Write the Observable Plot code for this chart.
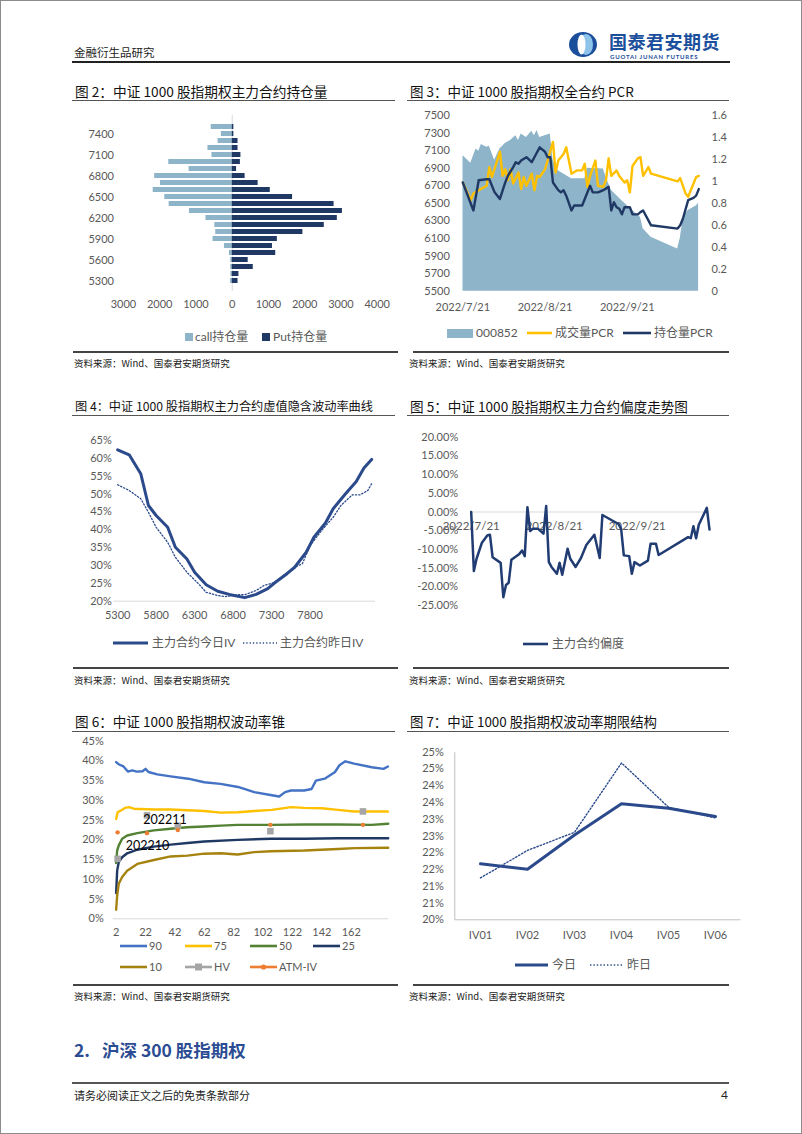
<!DOCTYPE html>
<html><head><meta charset="utf-8">
<script src="https://cdn.jsdelivr.net/npm/d3@7"></script>
<script src="https://cdn.jsdelivr.net/npm/@observablehq/plot@0.6"></script>
<style>
html,body{margin:0;padding:0;background:#fff;}
#page{position:absolute;left:0;top:0;width:802px;height:1134px;overflow:hidden;background:#fff;font-family:"Noto Sans CJK SC",sans-serif;}
.abs{position:absolute;white-space:pre;}
.abs svg{display:block;}
</style></head><body><div id="page"></div>
<script>
// ---------------- DATA ----------------
// Fig 2: open interest by strike
const oiStrikes = [7500,7400,7300,7200,7100,7000,6900,6800,6700,6600,6500,6400,6300,6200,6100,6000,5900,5800,5700,5600,5500,5400,5300];
const oiStrikeLabels = [7400,7100,6800,6500,6200,5900,5600,5300];
const callOI = [580,300,390,670,560,1750,1190,2140,1980,2180,1860,1740,1180,725,480,455,530,215,75,40,40,35,45];
const putOI = [45,45,160,160,240,225,120,355,715,1050,1665,2810,3040,2900,2540,1950,1245,1110,1200,440,580,185,160];
const oiTicks = [-3000,-2000,-1000,0,1000,2000,3000,4000];

// Fig 3: index 000852 and PCR
const idx000852 = [["7/21",7045],["7/24",6957],["7/26",7120],["7/27",7094],["7/28",7170],["7/30",7140],["7/31",7150],["8/2",6990],["8/4",7120],["8/6",7180],["8/8",7215],["8/10",7270],["8/11",7215],["8/12",7290],["8/14",7250],["8/16",7320],["8/17",7270],["8/18",7330],["8/19",7250],["8/21",7270],["8/23",7290],["8/24",7000],["8/26",6870],["8/31",6780],["9/5",6780],["9/6",6900],["9/12",6890],["9/13",6800],["9/15",6650],["9/19",6530],["9/23",6420],["9/26",6340],["9/27",6210],["9/30",6115],["10/10",5980],["10/11",6100],["10/12",6300],["10/13",6380],["10/14",6420],["10/17",6470],["10/18",6500]];
const volPCR = [["7/21",0.99],["7/24",0.83],["7/25",0.89],["7/27",0.92],["7/30",0.96],["7/31",1.13],["8/1",1.04],["8/4",1.27],["8/5",1.05],["8/6",1.11],["8/7",1.01],["8/8",1.11],["8/9",0.98],["8/11",1.08],["8/12",0.93],["8/13",1.04],["8/14",0.96],["8/16",1.07],["8/17",0.92],["8/18",1.05],["8/19",1.04],["8/21",1.11],["8/22",1.19],["8/24",1.36],["8/25",1.08],["8/26",1.19],["8/28",1.25],["8/29",1.31],["8/31",1.07],["9/2",1.10],["9/4",1.10],["9/5",1.16],["9/6",0.95],["9/7",1.05],["9/9",1.19],["9/10",0.96],["9/12",0.95],["9/13",1.01],["9/14",1.21],["9/15",1.05],["9/17",1.10],["9/18",1.05],["9/20",0.99],["9/21",1.01],["9/22",0.90],["9/23",1.14],["9/25",1.21],["9/26",1.22],["9/27",1.05],["9/29",1.13],["9/30",1.07],["10/10",1.00],["10/11",1.03],["10/13",0.89],["10/14",0.86],["10/15",0.92],["10/17",1.04],["10/18",1.05]];
const oiPCR = [["7/21",0.99],["7/25",0.735],["7/27",1.01],["7/30",1.02],["7/31",1.02],["8/2",0.90],["8/4",0.84],["8/6",0.99],["8/7",1.05],["8/9",1.13],["8/10",1.175],["8/11",1.16],["8/12",1.19],["8/14",1.22],["8/16",1.175],["8/17",1.22],["8/19",1.31],["8/21",1.27],["8/22",1.22],["8/23",1.22],["8/24",0.99],["8/26",0.92],["8/27",0.90],["8/28",0.92],["8/29",0.87],["8/31",0.735],["9/1",0.78],["9/4",0.78],["9/5",0.84],["9/7",0.96],["9/8",0.90],["9/10",0.90],["9/12",0.92],["9/14",0.95],["9/15",0.735],["9/16",0.81],["9/17",0.765],["9/18",0.75],["9/19",0.70],["9/20",0.765],["9/22",0.765],["9/23",0.70],["9/25",0.70],["9/26",0.72],["9/27",0.735],["9/30",0.60],["10/10",0.57],["10/11",0.60],["10/12",0.66],["10/14",0.83],["10/16",0.85],["10/17",0.87],["10/18",0.93]];
const idxTicks = [5500,5700,5900,6100,6300,6500,6700,6900,7100,7300,7500];
const pcrTicks = [0,0.2,0.4,0.6,0.8,1,1.2,1.4,1.6];
const idxDomain = [5500,7500];
const pcrDomain = [0,1.6];
const pcrDateDomain = ["7/21","10/18"];
const pcrDateTicks = ["7/21","8/21","9/21"];

// Fig 4: IV smile
const ivTodayStrikes = [5300,5450,5600,5700,5750,5800,5950,6050,6200,6300,6450,6600,6750,6950,7100,7250,7350,7500,7600,7750,7850,8000,8100,8250,8400,8500,8600];
const ivToday = [62.4,61.0,55.7,46.8,45.4,44.0,40.7,35.1,31.8,28.1,24.6,22.8,21.9,21.0,21.9,23.5,25.3,27.7,29.5,33.7,37.9,41.9,45.9,49.8,53.5,57.3,59.7];
const ivYestStrikes = [5300,5450,5600,5700,5800,5950,6050,6200,6350,6450,6600,6700,6850,6950,7100,7200,7350,7450,7600,7700,7800,7950,8100,8200,8350,8450,8550,8600];
const ivYest = [52.6,51.0,48.7,44.9,40.7,36.5,32.3,28.1,24.9,22.5,21.6,21.3,21.8,21.8,23.0,24.4,25.3,27.2,29.5,30.5,35.6,39.8,43.5,46.8,49.8,49.8,51.0,52.9];
const smileTicks = [5300,5800,6300,6800,7300,7800];
const smileYTicks = [20,25,30,35,40,45,50,55,60,65];

// Fig 5: skew
const skew = [["7/21",0.0],["7/22",-15.8],["7/23",-12.5],["7/25",-8.2],["7/27",-6.3],["7/28",-6.1],["7/29",-12.1],["8/1",-13.6],["8/2",-22.8],["8/3",-19.5],["8/4",-18.9],["8/5",-12.8],["8/8",-11.2],["8/9",-10.3],["8/10",-11.8],["8/11",1.3],["8/12",-5.1],["8/13",-4.5],["8/15",-4.5],["8/17",-5.8],["8/18",1.6],["8/19",-13.4],["8/20",-14.7],["8/22",-16.5],["8/23",-13.6],["8/24",-16.8],["8/26",-9.8],["8/27",-12.5],["8/29",-14.7],["8/31",-12.3],["9/2",-8.8],["9/5",-6.1],["9/7",-12.3],["9/8",-0.8],["9/14",-3.2],["9/15",-4.5],["9/16",-11.6],["9/18",-11.8],["9/19",-16.5],["9/20",-13.4],["9/22",-14.3],["9/25",-13.0],["9/26",-8.5],["9/28",-8.5],["9/29",-11.5],["10/10",-6.7],["10/11",-7.0],["10/12",-3.8],["10/13",-7.0],["10/14",-3.4],["10/17",1.1],["10/18",-4.7]];
const skewTicks = [-25,-20,-15,-10,-5,0,5,10,15,20];
const skewDateTicks = ["7/21","8/21","9/21"];

// Fig 6: volatility cone
const cone90Days = [2,4,7,10,13,16,20,22,24,30,39,51,62,73,85,96,108,113,117,121,130,135,138,144,151,154,158,164,176,184,187];
const cone90 = [39.7,39.1,38.6,37.3,37.6,37.3,37.4,38.0,37.2,36.6,36.1,35.5,34.6,34.2,33.4,32.1,31.3,31.0,32.1,32.5,32.5,32.9,35.0,35.5,37.2,38.9,39.9,39.3,38.4,38.0,38.6];
const cone75Days = [2,3,5,8,11,14,28,39,62,73,85,96,108,121,130,142,153,164,187];
const cone75 = [25.3,27.0,27.4,28.1,28.3,27.9,27.7,27.7,27.3,26.9,27.0,27.3,27.6,28.3,28.1,28.0,27.6,27.2,27.2];
const cone50Days = [2,2.7,3.8,6.1,9.5,16.4,27.7,39.1,50.5,61.9,73.3,84.7,107.5,130.2,153,175.8,187.2];
const cone50 = [14.1,17.3,18.6,20.3,21.1,21.7,22.4,22.8,23.2,23.4,23.6,23.8,23.8,23.9,23.9,23.8,24.1];
const cone25Days = [2,2.7,3.8,6.1,9.5,16.4,27.7,39.1,50.5,61.9,84.7,107.5,130.2,153,187.2];
const cone25 = [6.5,12.2,14.4,15.6,16.6,17.5,18.3,18.8,19.2,19.6,20.0,20.3,20.3,20.4,20.4];
const cone10Days = [2,2.7,3.8,6.1,9.5,16.4,27.7,39.1,50.5,61.9,73.3,84.7,96,107.5,130.2,153,164.4,187.2];
const cone10 = [2.3,5.9,8.9,10.6,12.2,13.9,14.9,15.8,16.0,16.5,16.6,16.3,16.9,17.1,17.3,17.7,17.9,18.0];
const hvDays = [3,23,44,107,170];
const hvVals = [15.2,26.2,23.6,22.2,27.2];
const atmDays = [3,23,44,107,170];
const atmVals = [21.9,21.7,22.5,23.8,23.8];
const coneLabels = ["202210","202211"];
const coneXTicks = [2,22,42,62,82,102,122,142,162];
const coneYTicks = [0,5,10,15,20,25,30,35,40,45];

// Fig 7: term structure
const terms = ["IV01","IV02","IV03","IV04","IV05","IV06"];
const termToday = [21.67,21.51,22.53,23.46,23.33,23.08];
const termYest = [21.25,22.07,22.61,24.68,23.36,23.04];
const termTicks = [20,20.5,21,21.5,22,22.5,23,23.5,24,24.5,25];

// ---------------- HELPERS ----------------
const page = document.getElementById("page");
const FONT = "Lato, 'Noto Sans CJK SC', sans-serif";
const CJK = "'Noto Sans CJK SC', sans-serif";
const TICK = "#595959";
const pd = s => { const [m, d] = s.split("/").map(Number); return new Date(Date.UTC(2022, m - 1, d)); };
function txt(t, x, yc, size, color = "#000", extra = {}, lhf = 1.3) {
  const d = document.createElement("div"); d.className = "abs"; d.textContent = t;
  const lh = size * lhf;
  Object.assign(d.style, {left: x + "px", top: (yc - lh / 2) + "px", fontSize: size + "px", lineHeight: lh + "px", color, fontFamily: CJK}, extra);
  page.appendChild(d); return d;
}
function hline(x1, x2, y, w, color) {
  const d = document.createElement("div"); d.className = "abs";
  Object.assign(d.style, {left: x1 + "px", top: (y - w / 2) + "px", width: (x2 - x1) + "px", height: w + "px", background: color});
  page.appendChild(d);
}
function svgAt(x, y, w, h, inner) {
  const d = document.createElement("div"); d.className = "abs";
  Object.assign(d.style, {left: x + "px", top: y + "px", width: w + "px", height: h + "px", lineHeight: "0"});
  d.innerHTML = `<svg width="${w}" height="${h}" xmlns="http://www.w3.org/2000/svg">${inner}</svg>`;
  page.appendChild(d);
}
function place(svg, x, y) { svg.style.position = "absolute"; svg.style.left = x + "px"; svg.style.top = y + "px"; page.appendChild(svg); }
function lineSwatch(x1, x2, yc, color, w, dash, marker) {
  let inner = `<line x1="0" x2="${x2 - x1}" y1="6" y2="6" stroke="${color}" stroke-width="${w}" ${dash ? `stroke-dasharray="${dash}"` : ""}/>`;
  if (marker === "square") inner += `<rect x="${(x2 - x1) / 2 - 3.5}" y="2.5" width="7" height="7" fill="${color}"/>`;
  if (marker === "dot") inner += `<circle cx="${(x2 - x1) / 2}" cy="6" r="2.6" fill="${color}"/>`;
  svgAt(x1, yc - 6, x2 - x1, 12, inner);
}
function rectSwatch(x, yc, w, h, color) { svgAt(x, yc - h / 2, w, h, `<rect width="${w}" height="${h}" fill="${color}"/>`); }
function legText(t, x, yc, size = 12) { return txt(t, x, yc, size, TICK, {fontFamily: FONT}); }
const baseStyle = {background: "transparent", fontFamily: FONT, fontSize: "11px", color: TICK, overflow: "visible"};

// ---------------- PAGE CHROME ----------------
txt("金融衍生品研究", 74, 52, 11.5, "#222");
svgAt(568, 31, 32, 27, `<ellipse cx="15" cy="13.5" rx="14" ry="12.5" fill="#1B4F9C"/><ellipse cx="18" cy="13.5" rx="7" ry="10.5" fill="#8EC3EA"/><ellipse cx="13.5" cy="13.5" rx="4" ry="10" fill="#fff"/>`);
txt("国泰君安期货", 609, 40.5, 18, "#1B4F9C", {fontWeight: "700", letterSpacing: "0.5px"}, 1.0);
txt("GUOTAI JUNAN FUTURES", 610, 57, 6, "#1B4F9C", {fontFamily: "Lato, sans-serif", letterSpacing: "0.8px", fontWeight: "700"}, 1.0);
hline(72, 730, 62, 1.5, "#222");

const titles = [
  ["图 2：中证 1000 股指期权主力合约持仓量", 75, 91.7, 13.7],
  ["图 3：中证 1000 股指期权全合约 PCR", 410, 91.7, 13.5],
  ["图 4：中证 1000 股指期权主力合约虚值隐含波动率曲线", 75, 406.7, 12.2],
  ["图 5：中证 1000 股指期权主力合约偏度走势图", 410, 406.7, 13.6],
  ["图 6：中证 1000 股指期权波动率锥", 75, 722, 13.6],
  ["图 7：中证 1000 股指期权波动率期限结构", 410, 722, 13.4]
];
titles.forEach(([t, x, y, s]) => txt(t, x, y, s, "#111"));
[100.7, 415.7, 731.7].forEach(y => { hline(72, 395, y, 1, "#555"); hline(407, 729, y, 1, "#555"); });
[[352, 363.5], [668, 680], [985, 996]].forEach(([ly, ty]) => {
  hline(73, 398, ly, 1.5, "#444"); hline(413, 729, ly, 1.5, "#444");
  txt("资料来源：Wind、国泰君安期货研究", 74, ty, 9.5, "#222");
  txt("资料来源：Wind、国泰君安期货研究", 409, ty, 9.5, "#222");
});
txt("2.   沪深 300 股指期权", 74, 1050, 17.5, "#2B4C93", {fontWeight: "700"});
hline(72, 729, 1083, 2, "#555");
txt("请务必阅读正文之后的免责条款部分", 74, 1095, 11, "#222");
txt("4", 721, 1095, 12, "#222", {fontFamily: FONT});

// ---------------- FIG 2 ----------------
const oiRows = oiStrikes.flatMap((s, i) => [{strike: s, side: "call", v: -callOI[i]}, {strike: s, side: "put", v: putOI[i]}]);
place(Plot.plot({
  width: 330, height: 215, marginTop: 9.9, marginBottom: 28.9, marginLeft: 53, marginRight: 23.3,
  style: baseStyle,
  x: {domain: [-3000, 4000], ticks: oiTicks, tickFormat: d => String(Math.abs(d)), tickSize: 0, tickPadding: 9, label: null},
  y: {domain: oiStrikes, padding: 0.35, tickSize: 0, tickPadding: 9.5, tickFormat: d => oiStrikeLabels.includes(d) ? String(d) : "", label: null},
  color: {domain: ["call", "put"], range: ["#8DB4C8", "#1F3864"]},
  marks: [
    Plot.ruleX([0], {stroke: "#D9D9D9"}),
    Plot.barX(oiRows, {x: "v", y: "strike", fill: "side"})
  ]
}), 70, 105);
rectSwatch(185, 337, 8, 8, "#8DB4C8"); legText("call持仓量", 195, 337);
rectSwatch(262, 337, 8, 8, "#1F3864"); legText("Put持仓量", 273, 337);

// ---------------- FIG 3 ----------------
const toLeft = p => idxDomain[0] + (p - pcrDomain[0]) / (pcrDomain[1] - pcrDomain[0]) * (idxDomain[1] - idxDomain[0]);
place(Plot.plot({
  width: 330, height: 215, marginTop: 10, marginBottom: 29.3, marginLeft: 57.3, marginRight: 36.7,
  style: baseStyle,
  x: {type: "utc", domain: pcrDateDomain.map(pd), ticks: pcrDateTicks.map(pd), tickFormat: d3.utcFormat("%Y/%-m/%-d"), tickSize: 0, tickPadding: 12, label: null},
  y: {domain: idxDomain, ticks: idxTicks, tickFormat: d => String(d), tickSize: 0, tickPadding: 13, label: null},
  marks: [
    Plot.areaY(idx000852, {x: d => pd(d[0]), y: d => d[1], fill: "#8DB4C8", clip: true}),
    Plot.lineY(volPCR, {x: d => pd(d[0]), y: d => toLeft(d[1]), stroke: "#FFC000", strokeWidth: 2.4}),
    Plot.lineY(oiPCR, {x: d => pd(d[0]), y: d => toLeft(d[1]), stroke: "#1F3864", strokeWidth: 2.4}),
    Plot.text(pcrTicks, {y: p => toLeft(p), text: p => String(+p.toFixed(1)), frameAnchor: "right", textAnchor: "start", dx: 12.7, fill: TICK})
  ]
}), 405, 105);
rectSwatch(447, 333, 26, 9, "#8DB4C8"); legText("000852", 476, 333);
lineSwatch(527, 552, 333, "#FFC000", 2.6); legText("成交量PCR", 555, 333);
lineSwatch(623, 651, 333, "#1F3864", 2.6); legText("持仓量PCR", 654, 333);

// ---------------- FIG 4 ----------------
const ivTodayRows = ivTodayStrikes.map((k, i) => ({k, v: ivToday[i]}));
const ivYestRows = ivYestStrikes.map((k, i) => ({k, v: ivYest[i]}));
place(Plot.plot({
  width: 330, height: 210, marginTop: 20, marginBottom: 29.3, marginLeft: 43.3, marginRight: 25,
  style: baseStyle,
  x: {domain: [5250, 8650], ticks: smileTicks, tickFormat: d => String(d), tickSize: 0, tickPadding: 10, label: null},
  y: {domain: [20, 65], ticks: smileYTicks, tickFormat: d => d + "%", tickSize: 0, tickPadding: 2, label: null},
  marks: [
    Plot.ruleY([20], {stroke: "#D9D9D9"}),
    Plot.line(ivYestRows, {x: "k", y: "v", stroke: "#2B4A8B", strokeWidth: 1.3, strokeDasharray: "1.3,2"}),
    Plot.line(ivTodayRows, {x: "k", y: "v", stroke: "#2B4A8B", strokeWidth: 3})
  ]
}), 70, 420);
lineSwatch(113, 148, 643, "#2B4A8B", 3); legText("主力合约今日IV", 152, 643);
lineSwatch(243, 277, 643, "#2B4A8B", 1.3, "1.3,2"); legText("主力合约昨日IV", 280, 643);

// ---------------- FIG 5 ----------------
place(Plot.plot({
  width: 330, height: 210, marginTop: 16.7, marginBottom: 25, marginLeft: 65.7, marginRight: 26,
  style: baseStyle,
  x: {type: "utc", domain: pcrDateDomain.map(pd), axis: null},
  y: {domain: [-25, 20], ticks: skewTicks, tickFormat: d => d.toFixed(2) + "%", tickSize: 0, tickPadding: 13, label: null},
  marks: [
    Plot.ruleY([0], {stroke: "#D9D9D9"}),
    Plot.text(skewDateTicks, {x: d => pd(d), y: () => 0, text: d => d3.utcFormat("%Y/%-m/%-d")(pd(d)), dy: 14, fill: TICK, fontSize: 11.5}),
    Plot.lineY(skew, {x: d => pd(d[0]), y: d => d[1], stroke: "#203C73", strokeWidth: 2.5})
  ]
}), 405, 420);
lineSwatch(523, 548, 644, "#203C73", 2.6); legText("主力合约偏度", 552, 644);

// ---------------- FIG 6 ----------------
const mk = (days, vals) => days.map((d, i) => ({d, v: vals[i]}));
const coneSeries = [
  [mk(cone90Days, cone90), "#4472C4"],
  [mk(cone75Days, cone75), "#FFC000"],
  [mk(cone50Days, cone50), "#548235"],
  [mk(cone25Days, cone25), "#203864"],
  [mk(cone10Days, cone10), "#A6830F"]
];
const hvRows = mk(hvDays, hvVals);
const atmRows = mk(atmDays, atmVals);
const labelRows = coneLabels.map((t, i) => ({t, d: hvDays[i], v: hvVals[i]}));
place(Plot.plot({
  width: 330, height: 210, marginTop: 5.7, marginBottom: 26.7, marginLeft: 42.7, marginRight: 11.7,
  style: baseStyle,
  x: {domain: [0, 187.6], ticks: coneXTicks, tickFormat: d => String(d), tickSize: 0, tickPadding: 9, label: null},
  y: {domain: [0, 45], ticks: coneYTicks, tickFormat: d => d + "%", tickSize: 0, tickPadding: 9.4, label: null},
  marks: [
    Plot.ruleY([0], {stroke: "#D9D9D9"}),
    ...coneSeries.map(([rows, c]) => Plot.line(rows, {x: "d", y: "v", stroke: c, strokeWidth: 2.4})),
    Plot.dot(hvRows, {x: "d", y: "v", symbol: "square", r: 3.7, fill: "#A5A5A5", stroke: "none"}),
    Plot.dot(atmRows, {x: "d", y: "v", r: 2.2, fill: "#ED7D31", stroke: "none"}),
    Plot.text(labelRows.slice(0, 1), {x: "d", y: "v", text: "t", dx: 30, dy: -13.3, fill: "#000", fontSize: 12.5}),
    Plot.text(labelRows.slice(1, 2), {x: "d", y: "v", text: "t", dx: 18, dy: 5, fill: "#000", fontSize: 12.5})
  ]
}), 70, 735);
const coneLeg = [["90", "#4472C4", 120, 946], ["75", "#FFC000", 185, 946], ["50", "#548235", 250, 946], ["25", "#203864", 313, 946], ["10", "#A6830F", 120, 967]];
coneLeg.forEach(([t, c, x, y]) => { lineSwatch(x, x + 27, y, c, 2.6); legText(t, x + 29, y, 11); });
lineSwatch(185, 212, 967, "#A5A5A5", 2.6, null, "square"); legText("HV", 214, 967, 11);
lineSwatch(250, 277, 967, "#ED7D31", 2.6, null, "dot"); legText("ATM-IV", 279, 967, 11);

// ---------------- FIG 7 ----------------
const W7 = 340 - 49.3 - 5, H7 = 210 - 16.7 - 25.7;
place(Plot.plot({
  width: 340, height: 210, marginTop: 16.7, marginBottom: 25.7, marginLeft: 49.3, marginRight: 5,
  style: baseStyle,
  x: {domain: terms, tickSize: 0, tickPadding: 11, label: null},
  y: {domain: [20, 25], ticks: termTicks, tickFormat: d => Math.round(d) + "%", tickSize: 0, tickPadding: 11, label: null},
  marks: [
    Plot.frame({stroke: "#BFBFBF", strokeDasharray: `0 ${W7 + H7} ${W7 + H7}`}),
    Plot.line(terms.map((t, i) => ({t, v: termYest[i]})), {x: "t", y: "v", stroke: "#2B4A8B", strokeWidth: 1.4, strokeDasharray: "1.4,2"}),
    Plot.line(terms.map((t, i) => ({t, v: termToday[i]})), {x: "t", y: "v", stroke: "#2B4A8B", strokeWidth: 3})
  ]
}), 405, 735);
lineSwatch(515, 548, 965, "#2B4A8B", 3); legText("今日", 552, 965);
lineSwatch(590, 623, 965, "#2B4A8B", 1.4, "1.4,2"); legText("昨日", 627, 965);

// page border
const b = document.createElement("div"); b.className = "abs";
Object.assign(b.style, {left: "0px", top: "0px", width: "802px", height: "1134px", boxSizing: "border-box", border: "1px solid #8c8c8c", pointerEvents: "none"});
page.appendChild(b);
</script></body></html>
